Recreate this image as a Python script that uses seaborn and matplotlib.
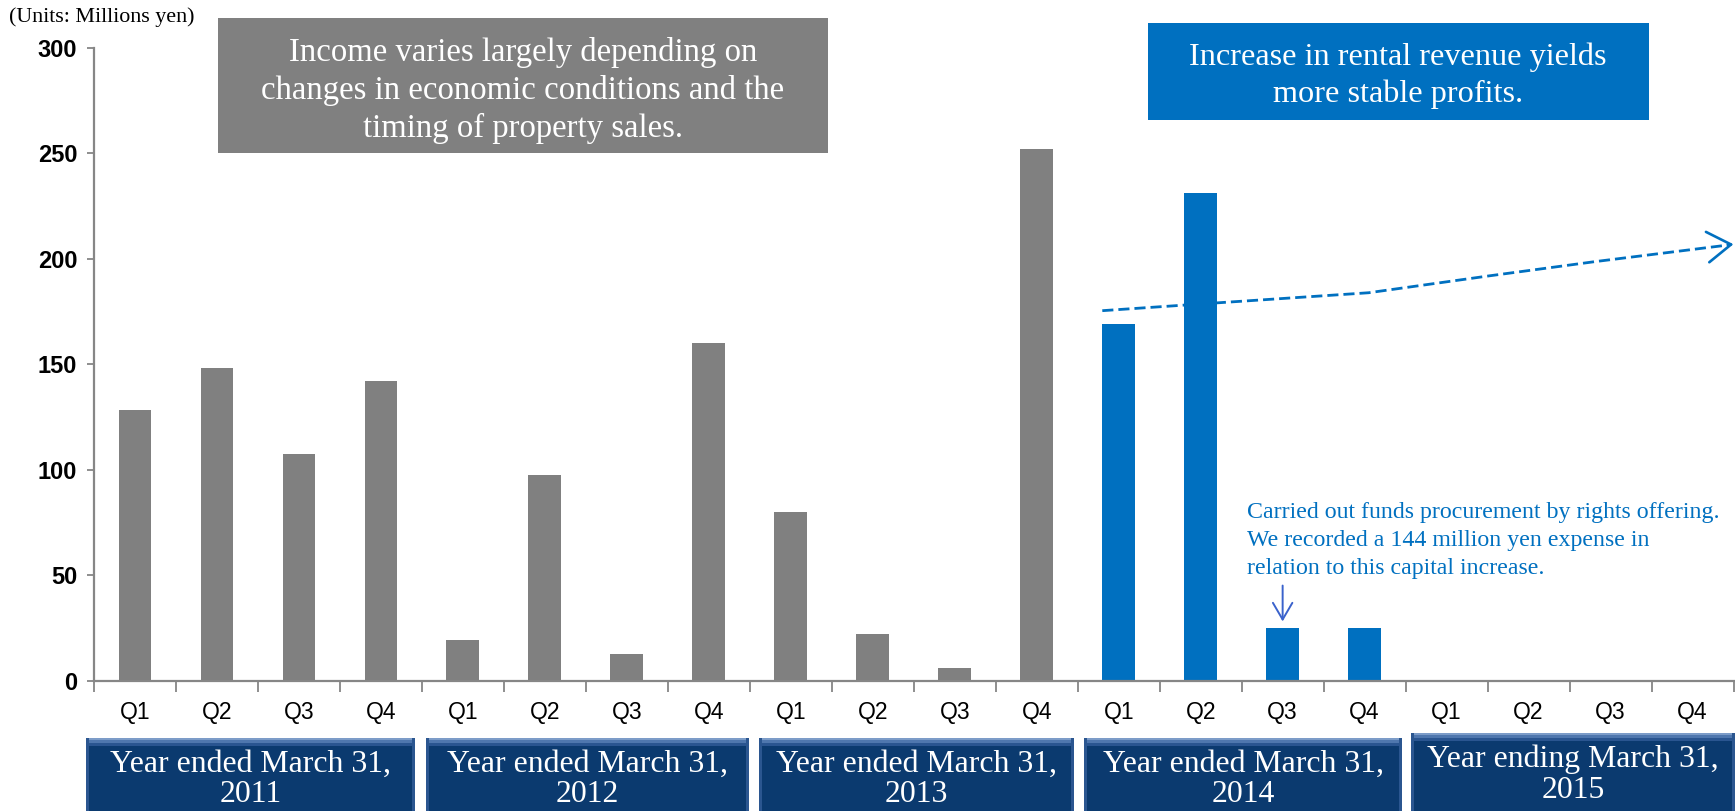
import matplotlib
matplotlib.use("Agg")
import matplotlib.pyplot as plt
from matplotlib.patches import Rectangle
import seaborn as sns
import pandas as pd
import numpy as np

# ---------------- data ----------------
quarters = ["Q1", "Q2", "Q3", "Q4"] * 5
years = ["Year ended March 31,\n2011", "Year ended March 31,\n2012",
         "Year ended March 31,\n2013", "Year ended March 31,\n2014",
         "Year ending March 31,\n2015"]
income = [128.2, 148.1, 107.3, 142.0,
          19.1, 97.5, 12.6, 160.2,
          80.0, 21.9, 5.8, 251.9,
          169.0, 231.2, 25.0, 25.0,
          np.nan, np.nan, np.nan, np.nan]
group = ["past"] * 12 + ["rental"] * 4 + ["future"] * 4
yticks = [0, 50, 100, 150, 200, 250, 300]

# trend (dashed arrow): category position, value
trend_x = [11.8, 13.2, 15.05, 16.5, 17.8, 19.45]
trend_y = [175.3, 179.0, 183.8, 191.7, 198.5, 206.5]

grey_note = "Income varies largely depending on\nchanges in economic conditions and the\ntiming of property sales."
blue_note = "Increase in rental revenue yields\nmore stable profits."
rights_note = ("Carried out funds procurement by rights offering.\n"
               "We recorded a 144 million yen expense in\n"
               "relation to this capital increase.")
units = "(Units: Millions yen)"

# ---------------- style ----------------
W, H = 1735, 811
GREY = "#808080"
BLUE = "#0070C0"
NAVY = "#0B3A6F"
SERIF = ["Liberation Serif", "DejaVu Serif"]
SANS = ["Liberation Sans", "DejaVu Sans"]

sns.set_theme(style="white")
plt.rcParams["font.family"] = SANS

ids = [f"p{i}" for i in range(len(income))]
df = pd.DataFrame({"period": ids, "income": income, "group": group})

fig = plt.figure(figsize=(W / 100, H / 100), dpi=100)
ax = fig.add_axes([94 / W, 130.5 / H, (1733.5 - 94) / W, (680.5 - 47.6) / H])

sns.barplot(data=df, x="period", y="income", hue="group", order=ids,
            palette={"past": GREY, "rental": BLUE, "future": BLUE},
            width=0.4, dodge=False, legend=False, ax=ax,
            edgecolor="none", saturation=1)

ax.set_xlim(-0.5, len(ids) - 0.5)
ax.set_ylim(0, 300)
ax.set_yticks(yticks)
ax.set_yticklabels([str(v) for v in yticks], fontsize=17, fontweight="bold",
                   color="black")
ax.set_xticks(range(len(ids)))
ax.set_xticklabels(quarters, fontsize=16.5, color="black")
ax.set_xticks(np.arange(-0.5, len(ids), 1.0), minor=True)
ax.tick_params(axis="x", which="major", length=0, pad=15)
ax.tick_params(axis="x", which="minor", length=8, width=1.3, color="#868686",
               direction="out", bottom=True)
ax.tick_params(axis="y", which="major", length=5, width=1.3, color="#868686",
               direction="out", left=True, pad=7)
ax.set_xlabel("")
ax.set_ylabel("")
for s in ["top", "right"]:
    ax.spines[s].set_visible(False)
for s in ["left", "bottom"]:
    ax.spines[s].set_color("#868686")
    ax.spines[s].set_linewidth(1.6)

# dashed trend with open arrow head
ax.plot(trend_x, trend_y, color=BLUE, lw=2.0, dashes=(4, 1.8), clip_on=False,
        solid_capstyle="butt")
ax.annotate("", xy=(trend_x[-1] + 0.05, trend_y[-1] + 0.3),
            xytext=(trend_x[-1] - 0.02, trend_y[-1]),
            arrowprops=dict(arrowstyle="->,head_length=0.85,head_width=0.55",
                            color=BLUE, lw=1.9, shrinkA=0, shrinkB=0,
                            mutation_scale=20),
            annotation_clip=False)

# rights-offering note and small arrow to Q3 2014
ax.annotate("", xy=(14, 28), xytext=(14, 45),
            arrowprops=dict(arrowstyle="->,head_length=0.6,head_width=0.35",
                            color="#3A62CC", lw=1.4, shrinkA=0, shrinkB=0,
                            mutation_scale=20))
fig.text(1247 / W, 1 - 540.5 / H, rights_note, family=SERIF, fontsize=17.2,
         color=BLUE, ha="left", va="center", linespacing=1.42)


def px_rect(x0, y0, x1, y1, color, z=1):
    r = Rectangle((x0 / W, 1 - y1 / H), (x1 - x0) / W, (y1 - y0) / H,
                  transform=fig.transFigure, facecolor=color, edgecolor="none",
                  zorder=z)
    fig.add_artist(r)
    return r


# grey and blue note boxes
px_rect(218, 18, 828, 153, GREY)
fig.text(523 / W, 1 - 90.5 / H, grey_note, family=SERIF, fontsize=23.6,
         color="white", ha="center", va="center", linespacing=1.3, zorder=3)
px_rect(1148, 23, 1649, 120, BLUE)
fig.text(1398 / W, 1 - 75.5 / H, blue_note, family=SERIF, fontsize=23.2,
         color="white", ha="center", va="center", linespacing=1.32, zorder=3)

# units
fig.text(9 / W, 1 - 17 / H, units, family=SERIF, fontsize=15.8,
         color="black", ha="left", va="center")

# year boxes with bevel
boxes = [(86, 738, 415), (426, 738, 749), (759, 738, 1074),
         (1084, 738, 1402), (1411, 733, 1735)]
for (x0, y0, x1), label in zip(boxes, years):
    px_rect(x0, y0, x1, H, NAVY)
    px_rect(x0, y0, x1, y0 + 2, "#7C9CC8", 2)
    px_rect(x0, y0 + 2, x1, y0 + 5, "#4F77AE", 2)
    px_rect(x0, y0 + 5, x1, y0 + 8, "#2A5590", 2)
    px_rect(x0, y0, x0 + 3, H, "#2B5690", 2)
    px_rect(x1 - 3, y0, x1, H, "#2B5690", 2)
    fig.text((x0 + x1) / 2 / W, 1 - (y0 + 41.5) / H, label, family=SERIF,
             fontsize=22.9, color="white", ha="center", va="center",
             linespacing=1.08, zorder=3)

fig.savefig("out.png", dpi=100)
